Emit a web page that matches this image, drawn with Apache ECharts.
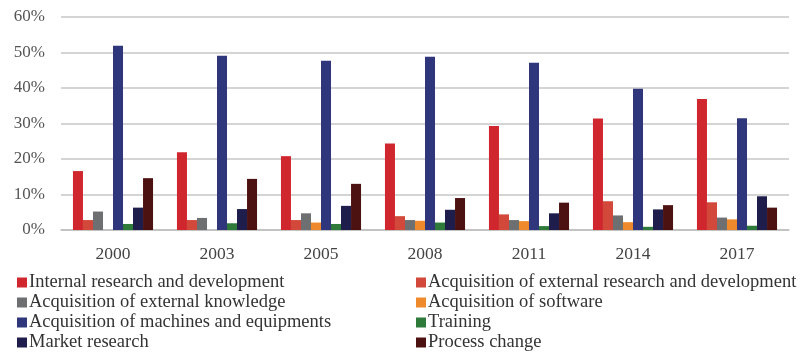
<!DOCTYPE html>
<html lang="en">
<head>
    <meta charset="UTF-8">
    <title>Innovation activities</title>
    <script src="https://cdn.jsdelivr.net/npm/echarts@6/dist/echarts.min.js"></script>
    <style>
        body { margin: 0; background: #fff; }
        #chart { width: 807px; height: 353px; }
    </style>
</head>
<body>
    <div id="chart"></div>
    <script type="text/javascript">
        var years = ['2000', '2003', '2005', '2008', '2011', '2014', '2017'];
        var names = [
            'Internal research and development',
            'Acquisition of external research and development',
            'Acquisition of external knowledge',
            'Acquisition of software',
            'Acquisition of machines and equipments',
            'Training',
            'Market research',
            'Process change'
        ];
        // shares in %
        var internalRD = [16.6, 21.9, 20.8, 24.4, 29.3, 31.4, 36.9];
        var externalRD = [2.8, 2.8, 2.8, 3.9, 4.4, 8.1, 7.8];
        var knowledge = [5.2, 3.4, 4.7, 2.8, 2.8, 4.1, 3.5];
        var software = [0, 0, 2.1, 2.6, 2.5, 2.2, 3.0];
        var machines = [51.9, 49.1, 47.7, 48.8, 47.1, 39.8, 31.5];
        var training = [1.7, 1.9, 1.7, 2.1, 1.1, 0.9, 1.2];
        var market = [6.3, 5.9, 6.8, 5.7, 4.7, 5.8, 9.5];
        var process = [14.6, 14.4, 13.0, 9.0, 7.7, 7.0, 6.3];

        var values = [internalRD, externalRD, knowledge, software, machines, training, market, process];
        var colors = ['#D0262E', '#D2483A', '#6E6F71', '#EF8A2C', '#2F367C', '#2E7A3B', '#1E1D4B', '#4C1111'];

        var font = '"Liberation Serif", "DejaVu Serif", serif';
        var myChart = echarts.init(document.getElementById('chart'));

        var series = [];
        for (var i = 0; i < names.length; i++) {
            series.push({
                name: names[i],
                type: 'bar',
                data: values[i],
                barGap: '0%',
                barCategoryGap: '23%',
                itemStyle: { color: colors[i] }
            });
        }

        function legendFor(idx, left) {
            return {
                orient: 'vertical',
                left: left,
                top: 268,
                height: 90,
                icon: 'rect',
                itemWidth: 10,
                itemHeight: 10,
                itemGap: 1,
                data: idx.map(function (k) { return names[k]; }),
                textStyle: { fontFamily: font, fontSize: 18.5, color: '#333', lineHeight: 18, padding: [0, 0, 0, -3] }
            };
        }

        var option = {
            animation: false,
            color: colors,
            grid: { left: 61, right: 18, top: 17, bottom: 123 },
            legend: [legendFor([0, 2, 4, 6], 12), legendFor([1, 3, 5, 7], 411)],
            xAxis: {
                type: 'category',
                data: years,
                axisLine: { lineStyle: { color: '#BDBDBD', width: 1.5 } },
                axisTick: { show: false },
                axisLabel: { fontFamily: font, fontSize: 17.5, color: '#444', margin: 15 }
            },
            yAxis: {
                type: 'value',
                min: 0,
                max: 60,
                interval: 10,
                axisLine: { show: false },
                axisTick: { show: false },
                splitLine: { lineStyle: { color: '#C6C6C6', width: 1.5 } },
                axisLabel: { fontFamily: font, fontSize: 17, color: '#555', margin: 16, formatter: '{value}%' }
            },
            series: series
        };
        myChart.setOption(option);
    </script>
</body>
</html>
